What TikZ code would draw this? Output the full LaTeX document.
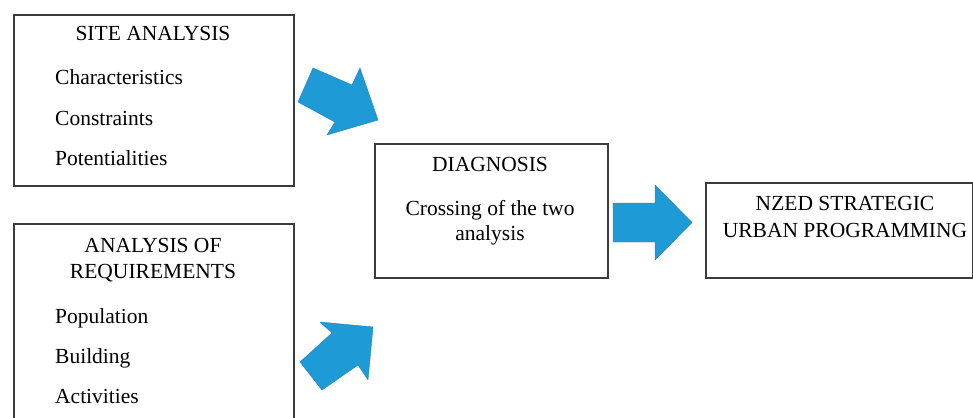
\documentclass[tikz,border=0pt]{standalone}
\usepackage{fontspec}
\setmainfont{Liberation Serif}
\definecolor{arrowblue}{RGB}{30,155,215}
\definecolor{boxline}{RGB}{60,60,60}
\begin{document}
\begin{tikzpicture}[x=1pt,y=-1pt,
  box/.style={draw=boxline,line width=1.8pt,fill=white,rectangle,inner sep=0pt,anchor=north west},
  txt/.style={font=\fontsize{21.5}{25}\selectfont,inner sep=0pt,anchor=base,text=black},
  item/.style={txt,anchor=base west},
  blockarrow/.style={fill=arrowblue,draw=arrowblue!85!black,line width=0.4pt,line join=round}]
\clip (0,0) rectangle (973,417);
% boxes
\node[box,minimum width=280pt,minimum height=171pt] (site) at (13,14) {};
\node[box,minimum width=280pt,minimum height=210pt] (req) at (13,223) {};
\node[box,minimum width=233pt,minimum height=134pt] (diag) at (374,143) {};
\node[box,minimum width=267pt,minimum height=95pt] (nzed) at (705,182) {};
% site analysis texts
\node[txt] (siteT) at (153,41) {SITE ANALYSIS};
\node[item] (s1) at (55,85) {Characteristics};
\node[item] (s2) at (55,125) {Constraints};
\node[item] (s3) at (55,165) {Potentialities};
% requirements texts
\node[txt] (reqT1) at (153,252) {ANALYSIS OF};
\node[txt] (reqT2) at (153,278) {REQUIREMENTS};
\node[item] (r1) at (55,323) {Population};
\node[item] (r2) at (55,363) {Building};
\node[item] (r3) at (55,403) {Activities};
% diagnosis texts
\node[txt] (diagT) at (490,171) {DIAGNOSIS};
\node[txt] (d1) at (490,215) {Crossing of the two};
\node[txt] (d2) at (490,240) {analysis};
% nzed texts
\node[txt] (n1) at (845,210) {NZED STRATEGIC};
\node[txt] (n2) at (845,237) {URBAN PROGRAMMING};
% block arrows
\filldraw[blockarrow] (298,102) -- (313,68) -- (352,85) -- (360,68) -- (378,120) -- (327,135) -- (335,122) -- cycle;
\filldraw[blockarrow] (300,362) -- (322,390) -- (358,365) -- (368,380) -- (373,327) -- (320,322) -- (332,333) -- cycle;
\filldraw[blockarrow] (613,203) -- (655,203) -- (655,185) -- (692,222.5) -- (655,260) -- (655,242) -- (613,242) -- cycle;
\end{tikzpicture}
\end{document}
